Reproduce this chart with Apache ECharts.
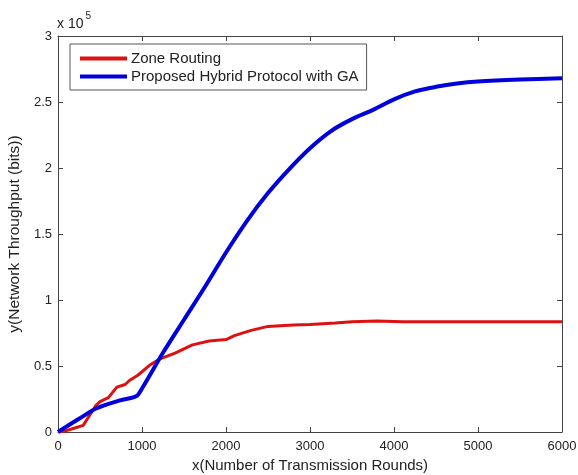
<!DOCTYPE html>
<html>
<head>
<meta charset="utf-8">
<script src="https://cdn.jsdelivr.net/npm/echarts@6/dist/echarts.min.js"></script>
<style>
  html, body { margin: 0; padding: 0; background: #fff; }
  #root { width: 578px; height: 475px; }
</style>
</head>
<body>
<div id="root"></div>
<script>
// values in bits
const zoneRouting = [
  [0, 0], [100, 1000], [200, 3000], [300, 5000], [350, 10000], [400, 15000],
  [450, 20000], [500, 23000], [600, 26000], [650, 30000], [700, 34000],
  [800, 36000], [850, 39000], [950, 43000], [1100, 51000], [1200, 55000],
  [1400, 60000], [1600, 66000], [1800, 69000], [2000, 70000], [2100, 73000],
  [2300, 77000], [2500, 80000], [2800, 81000], [3000, 81500], [3300, 82500],
  [3500, 83500], [3800, 84000], [4100, 83500], [6000, 83500]
];
const hybridGA = [
  [0, 0], [250, 10000], [460, 18000], [740, 24000], [930, 27000],
  [1000, 33000], [1250, 60000], [1500, 85000], [1750, 110000], [2000, 136000],
  [2250, 160000], [2500, 181000], [2750, 199000], [3000, 215000],
  [3250, 228000], [3500, 237000], [3750, 244000], [4000, 252000],
  [4250, 258000], [4500, 261500], [4750, 264000], [5000, 265500],
  [5500, 267000], [6000, 268000]
];
const seriesNames = ['Zone Routing', 'Proposed Hybrid Protocol with GA'];

const font = 'Liberation Sans, Arial, sans-serif';
const textColor = '#222';
const lineColor = '#444';

const chart = echarts.init(document.getElementById('root'));

const baseAxis = {
  axisLine: { show: true, onZero: false, lineStyle: { color: lineColor, width: 1 } },
  axisTick: { show: true, inside: true, length: 5, lineStyle: { color: lineColor } },
  splitLine: { show: false }
};

chart.setOption({
  animation: false,
  backgroundColor: '#fff',
  grid: { left: 58, right: 16, top: 36, bottom: 43, outerBoundsMode: 'none' },
  legend: {
    data: seriesNames,
    orient: 'vertical',
    left: 70,
    top: 44,
    padding: [7, 8, 6, 10],
    itemGap: 3,
    itemWidth: 47,
    itemHeight: 4,
    icon: 'rect',
    borderColor: '#555',
    borderWidth: 1,
    backgroundColor: '#fff',
    textStyle: { fontFamily: font, fontSize: 15, color: textColor, padding: [0, 0, 0, -1] }
  },
  graphic: [{
    type: 'text',
    left: 57,
    top: 11,
    style: {
      text: '{a|x 10}{b|5}',
      rich: {
        a: { fontFamily: font, fontSize: 14, fill: textColor, verticalAlign: 'bottom' },
        b: { fontFamily: font, fontSize: 10, fill: textColor, padding: [0, 0, 10, 2] }
      }
    }
  }],
  xAxis: [{
    ...baseAxis,
    type: 'value',
    min: 0,
    max: 6000,
    interval: 1000,
    position: 'bottom',
    name: 'x(Number of Transmission Rounds)',
    nameLocation: 'middle',
    nameGap: 26,
    nameTextStyle: { fontFamily: font, fontSize: 15, color: textColor },
    axisLabel: { fontFamily: font, fontSize: 13, color: textColor, margin: 8, formatter: v => String(v) }
  }, {
    ...baseAxis,
    type: 'value',
    min: 0,
    max: 6000,
    interval: 1000,
    position: 'top',
    axisLabel: { show: false }
  }],
  yAxis: [{
    ...baseAxis,
    type: 'value',
    min: 0,
    max: 300000,
    interval: 50000,
    position: 'left',
    name: 'y(Network Throughput (bits))',
    nameLocation: 'middle',
    nameGap: 32,
    nameTextStyle: { fontFamily: font, fontSize: 15.5, color: textColor },
    axisLabel: {
      fontFamily: font, fontSize: 13, color: textColor, margin: 6,
      formatter: v => String(v / 100000)
    }
  }, {
    ...baseAxis,
    type: 'value',
    min: 0,
    max: 300000,
    interval: 50000,
    position: 'right',
    axisLabel: { show: false }
  }],
  series: [{
    name: seriesNames[0],
    type: 'line',
    data: zoneRouting,
    symbol: 'none',
    color: '#dd1111',
    lineStyle: { width: 3, color: '#dd1111' }
  }, {
    name: seriesNames[1],
    type: 'line',
    data: hybridGA,
    symbol: 'none',
    smooth: 0.3,
    color: '#0000dd',
    lineStyle: { width: 4, color: '#0000dd' }
  }]
});
</script>
</body>
</html>
